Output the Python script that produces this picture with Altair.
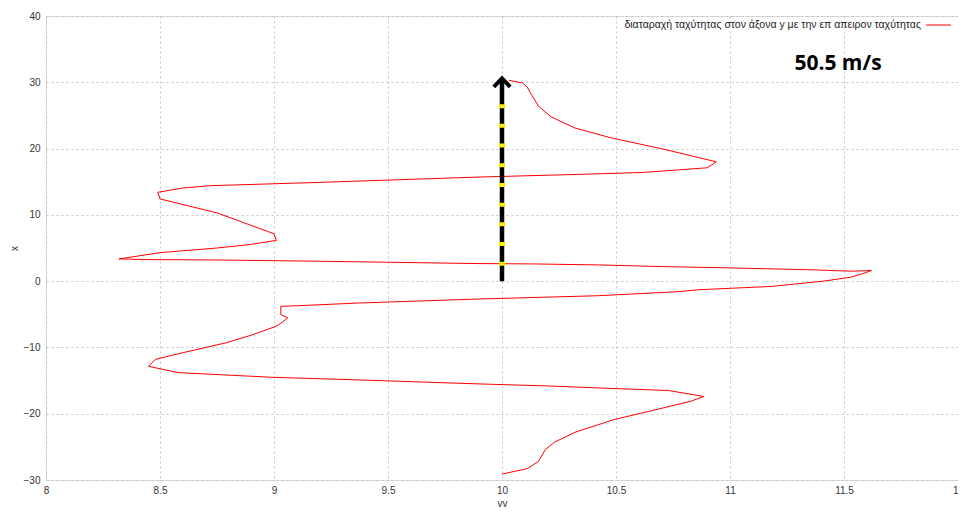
import altair as alt
import pandas as pd

# red curve (vv, x), traced from bottom to top
vv = [10.00, 10.11, 10.16, 10.19, 10.23, 10.32, 10.49, 10.71, 10.83, 10.885,
      10.73, 10.49, 10.19, 9.895, 9.37, 8.99, 8.58, 8.45, 8.48, 8.60,
      8.79, 8.905, 9.01, 9.04, 9.06, 9.03, 9.03, 9.11, 9.37, 9.895,
      10.42, 10.77, 10.86, 11.18, 11.41, 11.53, 11.58, 11.62, 11.53, 11.37,
      11.00, 10.70, 10.42, 10.13, 9.895, 9.20, 8.73, 8.45, 8.32, 8.50,
      8.75, 8.89, 9.01, 9.00, 8.75, 8.50, 8.49, 8.60, 8.72, 9.01,
      9.20, 9.895, 10.33, 10.62, 10.90, 10.94, 10.71, 10.48, 10.32, 10.215,
      10.16, 10.13, 10.11, 10.09, 10.03]
xs = [-29.1, -28.3, -27.2, -25.4, -24.3, -22.8, -20.9, -19.1, -18.1, -17.4,
      -16.5, -16.2, -15.8, -15.5, -14.9, -14.5, -13.8, -12.85, -11.8, -10.8,
      -9.3, -8.1, -6.8, -6.1, -5.55, -5.05, -3.8, -3.7, -3.3, -2.7,
      -2.2, -1.6, -1.3, -0.8, 0.0, 0.6, 1.1, 1.6, 1.5, 1.7,
      2.0, 2.2, 2.45, 2.6, 2.65, 3.0, 3.2, 3.25, 3.35, 4.3,
      5.0, 5.5, 6.15, 7.15, 10.3, 12.4, 13.4, 14.05, 14.4, 14.7,
      14.9, 15.7, 16.1, 16.4, 17.1, 18.0, 19.9, 21.6, 23.1, 24.8,
      26.4, 28.1, 29.3, 29.9, 30.3]

x_ticks = [8, 8.5, 9, 9.5, 10, 10.5, 11, 11.5, 12]
y_ticks = [-30, -20, -10, 0, 10, 20, 30, 40]

legend_label = "διαταραχή ταχύτητας στον άξονα y με την επ απειρον ταχύτητας"
annotation = "50.5 m/s"

# arrow annotation
shaft_v = [10.0, 10.0]
shaft_y = [0.0, 30.5]
stripe_v = [10.0, 10.0]
stripe_y = [0.0, 27.0]
head_v = [9.964, 10.0, 10.036]
head_y = [29.3, 30.6, 29.3]

FONT = "Liberation Sans"
LABEL_COLOR = "#333333"

df = pd.DataFrame({"vv": vv, "x": xs, "i": list(range(len(vv)))})
shaft_df = pd.DataFrame({"vv": shaft_v, "x": shaft_y, "i": [0, 1]})
stripe_df = pd.DataFrame({"vv": stripe_v, "x": stripe_y, "i": [0, 1]})
head_df = pd.DataFrame({"vv": head_v, "x": head_y, "i": [0, 1, 2]})

xscale = alt.Scale(domain=[8, 12], nice=False, zero=False)
yscale = alt.Scale(domain=[-30, 40], nice=False, zero=False)

xaxis = alt.Axis(values=x_ticks, format="~g", title="vv", grid=True,
                 gridDash=[2, 3], gridColor="#c4c4c4", ticks=False, domain=False,
                 labelFont=FONT, labelFontSize=10, labelColor=LABEL_COLOR,
                 labelPadding=5, labelFlush=False,
                 titleFont=FONT, titleFontSize=10, titleFontWeight="normal",
                 titleColor=LABEL_COLOR, titleY=26, titleBaseline="alphabetic")
yaxis = alt.Axis(values=y_ticks, format="~g", title="x", grid=True,
                 gridDash=[2, 3], gridColor="#c4c4c4", ticks=False, domain=False,
                 labelFont=FONT, labelFontSize=10, labelColor=LABEL_COLOR,
                 labelPadding=6, labelFlush=False,
                 titleFont=FONT, titleFontSize=10, titleFontWeight="normal",
                 titleColor=LABEL_COLOR, titleX=-32, titleY=232, titleAngle=270,
                 titleAlign="center", titleBaseline="middle")

curve = alt.Chart(df).mark_line(color="#ff0000", strokeWidth=1).encode(
    x=alt.X("vv:Q", scale=xscale, axis=xaxis),
    y=alt.Y("x:Q", scale=yscale, axis=yaxis),
    order=alt.Order("i:Q"),
)

shaft = alt.Chart(shaft_df).mark_line(color="#000000", strokeWidth=4.5, strokeCap="butt").encode(
    x=alt.X("vv:Q", scale=xscale), y=alt.Y("x:Q", scale=yscale), order=alt.Order("i:Q"))

stripes = alt.Chart(stripe_df).mark_line(color="#ffee00", strokeWidth=6, strokeCap="butt",
                                         strokeDash=[4, 15.7], strokeDashOffset=4.3).encode(
    x=alt.X("vv:Q", scale=xscale), y=alt.Y("x:Q", scale=yscale), order=alt.Order("i:Q"))

head = alt.Chart(head_df).mark_line(color="#000000", strokeWidth=4, strokeJoin="miter",
                                    strokeCap="butt").encode(
    x=alt.X("vv:Q", scale=xscale), y=alt.Y("x:Q", scale=yscale), order=alt.Order("i:Q"))

legend_text = alt.Chart(pd.DataFrame({"t": [legend_label]})).mark_text(
    font=FONT, fontSize=10.5, color="#222222", align="right", baseline="middle").encode(
    x=alt.value(875), y=alt.value(9), text="t:N")

legend_rule = alt.Chart(pd.DataFrame({"t": [legend_label]})).mark_rule(
    color="#ff0000", strokeWidth=1).encode(
    x=alt.value(880), x2=alt.value(905), y=alt.value(9))

ann = alt.Chart(pd.DataFrame({"t": [annotation]})).mark_text(
    font="Open Sans", fontSize=21, fontWeight="bold", color="#000000",
    align="center", baseline="middle").encode(
    x=alt.value(792), y=alt.value(48), text="t:N")

chart = alt.layer(curve, shaft, stripes, head, legend_text, legend_rule, ann).properties(
    width=912, height=464,
    padding={"left": 38, "top": 8, "right": 0, "bottom": 28},
    autosize=alt.AutoSizeParams(type="none"),
).configure_view(stroke="#333333", strokeWidth=1).configure(background="white")

chart.save("out.html", embed_options={"renderer": "svg", "actions": False})
